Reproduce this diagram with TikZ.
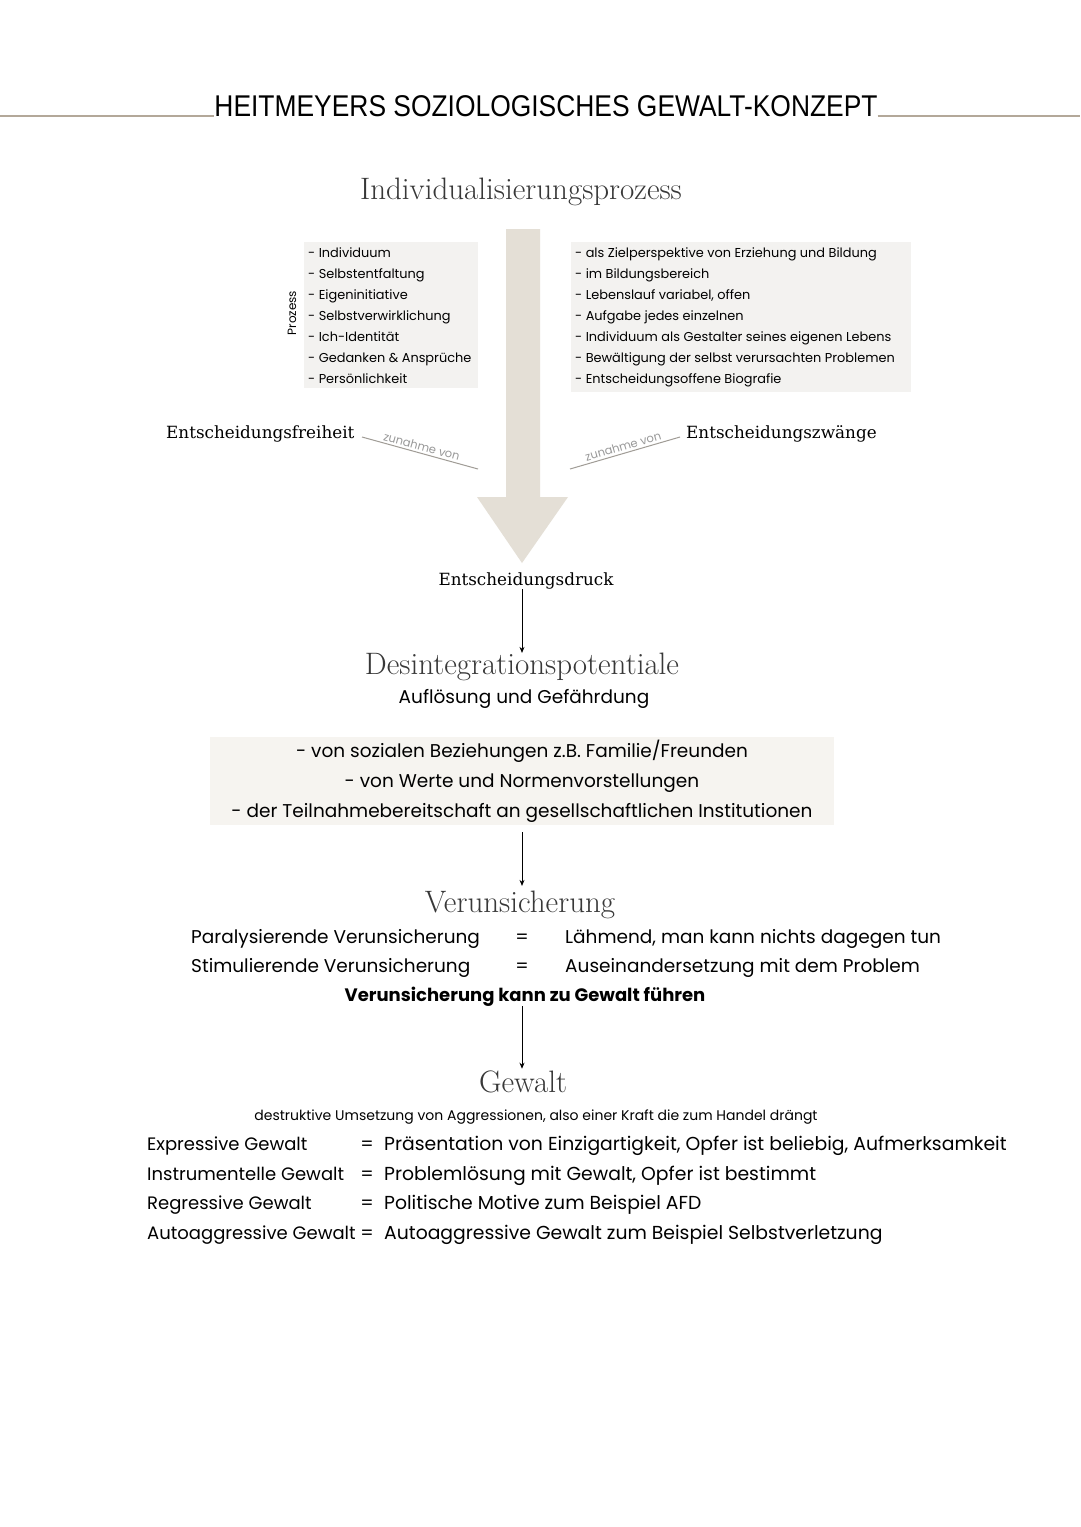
\documentclass[tikz,border=0pt]{standalone}
\usepackage{fontspec}
\newfontfamily\sansfont{Poppins}
\newfontfamily\titlefont{Liberation Sans}
\newfontfamily\slabfont{DejaVu Serif}
\usetikzlibrary{arrows.meta,calc}
\definecolor{beige}{HTML}{E4DFD6}
\definecolor{boxgray}{HTML}{F3F2F0}
\definecolor{boxcream}{HTML}{F6F4F0}
\definecolor{rulebrown}{HTML}{B3A899}
\colorlet{headgray}{black!78}
\colorlet{zugray}{black!40}

\begin{document}
\begin{tikzpicture}[x=1pt,y=-1pt,
    every node/.style={inner sep=0pt},
    head/.style={font=\fontsize{31}{31}\selectfont, text=headgray},
    slab/.style={font=\slabfont\fontsize{16.8}{16.8}\selectfont},
    txt/.style={font=\sansfont\fontsize{18.5}{18.5}\selectfont},
    small/.style={font=\sansfont\fontsize{12.9}{21}\selectfont},
    listbox/.style={small, fill=boxgray, inner xsep=4pt, inner ysep=5pt, align=flush left, anchor=north west},
    pfeil/.style={-{Stealth[length=6pt,width=5pt]}, line width=0.8pt}
]
    \useasboundingbox[fill=white] (0,0) rectangle (1080,1527);

    % Titel
    \node[font=\titlefont\fontsize{30}{30}\selectfont, anchor=base] (titel) at (546,116)
        {\scalebox{0.88}[1]{HEITMEYERS SOZIOLOGISCHES GEWALT-KONZEPT}};
    \draw[rulebrown, line width=1.2pt] (0,116) -- (titel.base west);
    \draw[rulebrown, line width=1.2pt] (titel.base east) -- (1080,116);

    % Individualisierungsprozess
    \node[head] (indiv) at (521,192) {Individualisierungsprozess};
    \fill[beige] (506,229) -- (540,229) -- (540,497) -- (568,497) -- (522,563)
        -- (477,497) -- (506,497) -- cycle;

    \node[listbox, text width=166pt] (links) at (304,242)
        {- Individuum\\- Selbstentfaltung\\- Eigeninitiative\\- Selbstverwirklichung\\
         - Ich-Identität\\- Gedanken \& Ansprüche\\- Persönlichkeit};
    \node[font=\sansfont\fontsize{12}{12}\selectfont, rotate=90] (prozess) at (292,313) {Prozess};
    \node[listbox, text width=332pt] (rechts) at (571,242)
        {- als Zielperspektive von Erziehung und Bildung\\- im Bildungsbereich\\
         - Lebenslauf variabel, offen\\- Aufgabe jedes einzelnen\\
         - Individuum als Gestalter seines eigenen Lebens\\
         - Bewältigung der selbst verursachten Problemen\\- Entscheidungsoffene Biografie};

    \node[slab, anchor=base west] (freiheit) at (166,438) {Entscheidungsfreiheit};
    \node[slab, anchor=base west] (zwaenge) at (686,438) {Entscheidungszwänge};
    \coordinate (lz) at (478,469);
    \coordinate (rz) at (570,469);
    \draw[beige!70!black, line width=1pt] (362,437) -- node[sloped, above=2pt, text=zugray,
        font=\sansfont\fontsize{11.5}{11.5}\selectfont] {zunahme von} (lz);
    \draw[beige!70!black, line width=1pt] (rz) -- node[sloped, above=2pt, text=zugray,
        font=\sansfont\fontsize{11.5}{11.5}\selectfont] {zunahme von} (680,437);

    \node[slab] (druck) at (526,581) {Entscheidungsdruck};

    % Desintegrationspotentiale
    \node[head] (desint) at (522,667) {Desintegrationspotentiale};
    \node[txt] (aufl) at (524,699) {Auflösung und Gefährdung};
    \draw[pfeil] (druck.south -| desint.north) -- (desint.north);

    \node[txt, fill=boxcream, minimum width=624pt, minimum height=88pt, align=center,
        font=\sansfont\fontsize{18.5}{30}\selectfont] (potbox) at (522,781)
        {- von sozialen Beziehungen z.B. Familie/Freunden\\
         - von Werte und Normenvorstellungen\\
         - der Teilnahmebereitschaft an gesellschaftlichen Institutionen};

    % Verunsicherung
    \node[head] (verun) at (520,905) {Verunsicherung};
    \draw[pfeil, shorten <=7pt, shorten >=5pt] (potbox.south -| 522,0) -- (verun.north -| 522,0);
    \node[txt, anchor=base west] (para) at (191,943) {Paralysierende Verunsicherung};
    \node[txt, anchor=base] (gl1) at (522,943) {=};
    \node[txt, anchor=base west] (laehm) at (565,943) {Lähmend, man kann nichts dagegen tun};
    \node[txt, anchor=base west] (stim) at (191,972) {Stimulierende Verunsicherung};
    \node[txt, anchor=base] (gl2) at (522,972) {=};
    \node[txt, anchor=base west] (ausein) at (565,972) {Auseinandersetzung mit dem Problem};
    \node[txt, anchor=base, font=\sansfont\bfseries\fontsize{18}{18}\selectfont] (kann) at (525,1001)
        {Verunsicherung kann zu Gewalt führen};

    % Gewalt
    \node[head] (gewalt) at (523,1082) {Gewalt};
    \draw[pfeil, shorten >=2pt] (kann.south -| 522,0) -- (gewalt.north -| 522,0);
    \node[font=\sansfont\fontsize{14}{14}\selectfont] (destr) at (536,1117)
        {destruktive Umsetzung von Aggressionen, also einer Kraft die zum Handel drängt};
    \foreach \y/\art/\text in {1150/Expressive Gewalt/{Präsentation von Einzigartigkeit, Opfer ist beliebig, Aufmerksamkeit},
        1180/Instrumentelle Gewalt/{Problemlösung mit Gewalt, Opfer ist bestimmt},
        1209/Regressive Gewalt/{Politische Motive zum Beispiel AFD},
        1239/Autoaggressive Gewalt/{Autoaggressive Gewalt zum Beispiel Selbstverletzung}}{
        \node[txt, font=\sansfont\fontsize{18}{18}\selectfont, anchor=base west] (art\y) at (147,\y) {\art};
        \node[txt, anchor=base] (gl\y) at (367,\y) {=};
        \node[txt, font=\sansfont\fontsize{18.8}{18.8}\selectfont, anchor=base west] (def\y) at (384,\y) {\text};
    }
\end{tikzpicture}
\end{document}
